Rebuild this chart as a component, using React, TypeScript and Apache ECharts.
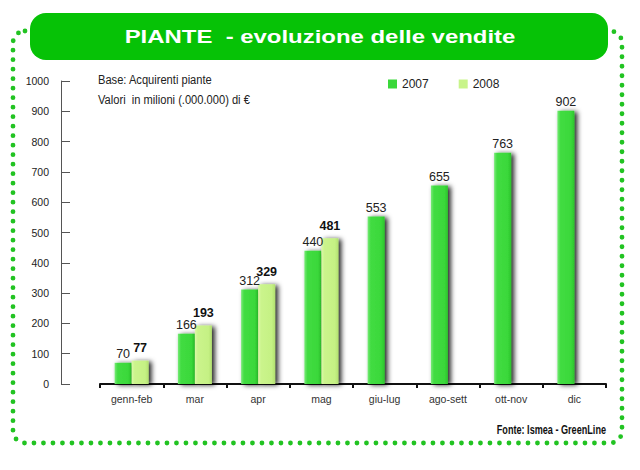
import React, { useEffect, useRef } from "react";
import * as echarts from "echarts";

const categories = ["genn-feb", "mar", "apr", "mag", "giu-lug", "ago-sett", "ott-nov", "dic"];
const values2007 = [70, 166, 312, 440, 553, 655, 763, 902];
const values2008: (number | null)[] = [77, 193, 329, 481, null, null, null, null];
const yTicks = { min: 0, max: 1000, interval: 100 };

const SANS = "Liberation Sans, Arial, Helvetica, sans-serif";

export default function App() {
  const ref = useRef<HTMLDivElement>(null);
  useEffect(() => {
    if (!ref.current) return;
    const chart = echarts.init(ref.current, undefined, { renderer: "svg" });
    const shadow = {
      shadowColor: "rgba(0,0,0,0.85)",
      shadowBlur: 5,
      shadowOffsetX: 3,
      shadowOffsetY: 1,
    };
    const grad2007 = new echarts.graphic.LinearGradient(0, 0, 1, 0, [
      { offset: 0, color: "#78ea78" },
      { offset: 0.18, color: "#42dc42" },
      { offset: 0.8, color: "#3ad83a" },
      { offset: 1, color: "#2cc42c" },
    ]);
    const grad2008 = new echarts.graphic.LinearGradient(0, 0, 1, 0, [
      { offset: 0, color: "#dcf9a8" },
      { offset: 0.18, color: "#cbf48c" },
      { offset: 0.8, color: "#c5f184" },
      { offset: 1, color: "#b2e070" },
    ]);
    chart.setOption({
      animation: false,
      backgroundColor: "#ffffff",
      grid: { left: 100, right: 34, top: 81, bottom: 86, containLabel: false },
      legend: {
        data: [
          { name: "2007", itemStyle: { color: "#3ad83a" } },
          { name: "2008", itemStyle: { color: "#c8f48a" } },
        ],
        icon: "rect",
        itemWidth: 9,
        itemHeight: 9,
        itemGap: 30,
        left: 383,
        top: 73,
        textStyle: { fontFamily: SANS, fontSize: 12, color: "#222" },
      },
      xAxis: {
        type: "category",
        data: categories,
        axisLine: { show: true, lineStyle: { color: "#111", width: 2 } },
        axisTick: { show: true, alignWithLabel: false, length: 4, lineStyle: { color: "#111", width: 2 } },
        axisLabel: { fontFamily: SANS, fontSize: 10.5, color: "#333", margin: 9 },
      },
      yAxis: {
        type: "value",
        min: yTicks.min,
        max: yTicks.max,
        interval: yTicks.interval,
        offset: 39,
        splitLine: { show: false },
        axisLine: { show: true, lineStyle: { color: "#555", width: 1 } },
        axisTick: { show: true, inside: true, length: 9, lineStyle: { color: "#555" } },
        axisLabel: {
          fontFamily: SANS,
          fontSize: 10.5,
          color: "#222",
          margin: 12,
          formatter: (v: number) => String(v),
        },
      },
      series: [
        {
          name: "2007",
          type: "bar",
          data: values2007,
          barWidth: 17,
          barGap: "0%",
          itemStyle: { color: grad2007, ...shadow },
          label: {
            show: true,
            position: "top",
            distance: 2,
            fontFamily: SANS,
            fontSize: 12.5,
            color: "#222",
          },
        },
        {
          name: "2008",
          type: "bar",
          data: values2008,
          barWidth: 17,
          barGap: "0%",
          itemStyle: { color: grad2008, ...shadow },
          label: {
            show: true,
            position: "top",
            distance: 6,
            fontFamily: SANS,
            fontSize: 12.5,
            fontWeight: "bold",
            color: "#111",
          },
        },
      ],
      graphic: [
        {
          type: "rect",
          z: 1,
          shape: { x: 13, y: 31, width: 609, height: 412, r: 12 },
          style: {
            fill: "none",
            stroke: "#22c322",
            lineWidth: 4.8,
            lineDash: [0, 9.5],
            lineCap: "round",
          },
        },
        {
          type: "rect",
          z: 2,
          shape: { x: 30, y: 13, width: 578, height: 47, r: 16 },
          style: { fill: "#06c206" },
        },
        {
          type: "text",
          z: 3,
          x: 320,
          y: 37,
          scaleX: 1.33,
          style: {
            text: "PIANTE  - evoluzione delle vendite",
            fill: "#ffffff",
            font: `bold 18px ${SANS}`,
            align: "center",
            verticalAlign: "middle",
          },
        },
        {
          type: "text",
          z: 3,
          x: 98,
          y: 80,
          scaleX: 0.89,
          style: {
            text: "Base: Acquirenti piante",
            fill: "#222",
            font: `12.5px ${SANS}`,
            align: "left",
            verticalAlign: "middle",
          },
        },
        {
          type: "text",
          z: 3,
          x: 98,
          y: 100,
          scaleX: 0.89,
          style: {
            text: "Valori  in milioni (.000.000) di €",
            fill: "#222",
            font: `12.5px ${SANS}`,
            align: "left",
            verticalAlign: "middle",
          },
        },
        {
          type: "text",
          z: 3,
          x: 606,
          y: 429,
          scaleX: 0.7,
          style: {
            text: "Fonte: Ismea - GreenLine",
            fill: "#111",
            font: `bold 13px ${SANS}`,
            align: "right",
            verticalAlign: "middle",
          },
        },
      ],
    });
    return () => chart.dispose();
  }, []);
  return (
    <div
      ref={ref}
      style={{ position: "fixed", left: 0, top: 0, width: 640, height: 470 }}
    />
  );
}
